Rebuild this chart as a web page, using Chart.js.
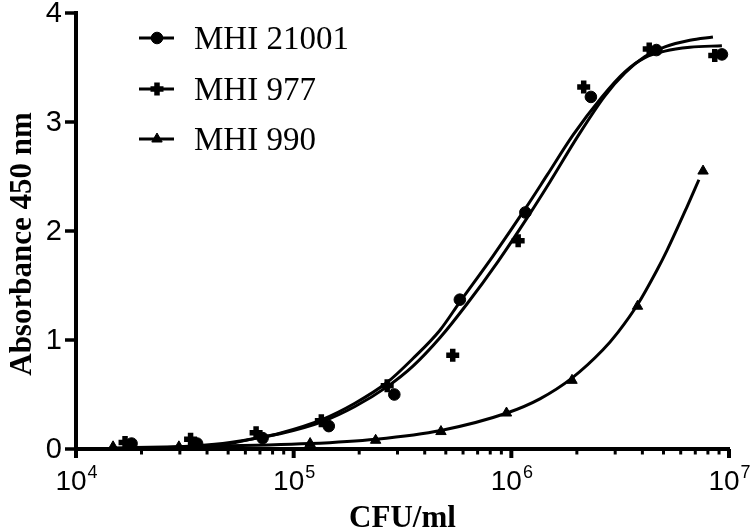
<!DOCTYPE html>
<html><head><meta charset="utf-8">
<script src="https://cdn.jsdelivr.net/npm/chart.js@4/dist/chart.umd.min.js"></script>
<style>html,body{margin:0;padding:0;background:#fff;}#wrap{width:755px;height:530px;}</style>
</head><body><div id="wrap"><canvas id="c" width="755" height="530"></canvas></div>
<script>
// ---- data ----
const seriesNames = ['MHI 21001', 'MHI 977', 'MHI 990'];

const mhi21001X = [1.8e4, 3.6e4, 7.2e4, 1.45e5, 2.9e5, 5.8e5, 1.16e6, 2.32e6, 4.64e6, 9.28e6];
const mhi21001Y = [0.05, 0.05, 0.10, 0.21, 0.50, 1.37, 2.17, 3.23, 3.66, 3.62];
const mhi977X = [1.68e4, 3.36e4, 6.72e4, 1.34e5, 2.69e5, 5.38e5, 1.075e6, 2.15e6, 4.3e6, 8.6e6];
const mhi977Y = [0.06, 0.09, 0.15, 0.26, 0.58, 0.86, 1.91, 3.32, 3.67, 3.61];
const mhi990X = [1.48e4, 2.97e4, 1.19e5, 2.38e5, 4.75e5, 9.5e5, 1.9e6, 3.8e6, 7.6e6];
const mhi990Y = [0.02, 0.02, 0.05, 0.08, 0.16, 0.33, 0.63, 1.31, 2.55];

// fitted curves, values
const fit21001X = [1.808e4, 3.596e4, 5.097e4, 7.228e4, 8.651e4, 1.349e5, 1.912e5, 2.683e5, 3.532e5, 4.699e5, 5.806e5, 8.233e5, 1.155e6, 1.457e6, 1.919e6, 2.608e6, 3.325e6, 4.110e6, 5.077e6, 6.613e6, 9.277e6];
const fit21001Y = [0.00, 0.03, 0.06, 0.11, 0.145, 0.27, 0.42, 0.61, 0.83, 1.09, 1.35, 1.77, 2.20, 2.51, 2.88, 3.23, 3.46, 3.59, 3.65, 3.685, 3.70];
const fit977X = [1.680e4, 3.304e4, 5.097e4, 6.711e4, 8.651e4, 1.349e5, 1.912e5, 2.683e5, 3.532e5, 4.699e5, 6.252e5, 8.681e5, 1.217e6, 1.504e6, 2.022e6, 2.692e6, 3.325e6, 4.110e6, 5.077e6, 6.613e6, 8.436e6];
const fit977Y = [0.00, 0.02, 0.05, 0.10, 0.14, 0.25, 0.39, 0.57, 0.76, 1.02, 1.33, 1.72, 2.16, 2.45, 2.87, 3.24, 3.45, 3.60, 3.69, 3.75, 3.78];
const fit990X = [1.479e4, 2.972e4, 1.188e5, 2.388e5, 4.749e5, 9.546e5, 1.353e6, 1.898e6, 2.636e6, 3.088e6, 3.815e6, 4.665e6, 5.184e6, 6.406e6, 7.272e6];
const fit990Y = [0.01, 0.02, 0.05, 0.09, 0.17, 0.33, 0.46, 0.65, 0.91, 1.07, 1.33, 1.64, 1.82, 2.22, 2.47];

const yTickValues = [0, 1, 2, 3, 4];
const xDecades = [1e4, 1e5, 1e6, 1e7];
const xDecadeExponents = ['4', '5', '6', '7'];
const minorMultipliers = [2, 3, 4, 5, 6, 7, 8, 9];
const xTitle = 'CFU/ml';
const yTitle = 'Absorbance 450 nm';

const zip = (xs, ys) => xs.map((x, i) => ({x, y: ys[i]}));

const pointStyleOpts = [
  {pointStyle: 'circle', radius: 5.8, borderWidth: 1},
  {pointStyle: 'cross', radius: 6.5, borderWidth: 5.5},
  {pointStyle: 'triangle', radius: 6, borderWidth: 1}
];

function curveDs(xs, ys) {
  return {data: zip(xs, ys), showLine: true, borderColor: '#000', borderWidth: 3,
    pointRadius: 0, cubicInterpolationMode: 'monotone', fill: false, order: 2};
}
function pointDs(xs, ys, k) {
  const p = pointStyleOpts[k];
  return {label: seriesNames[k], data: zip(xs, ys), showLine: false,
    pointStyle: p.pointStyle, pointRadius: p.radius, pointBorderWidth: p.borderWidth,
    pointBackgroundColor: '#000', pointBorderColor: '#000', order: 1};
}

const decoPlugin = {
  id: 'deco',
  afterDraw(chart) {
    const ctx = chart.ctx, xs = chart.scales.x, ys = chart.scales.y, ca = chart.chartArea;
    ctx.save();
    ctx.strokeStyle = '#000'; ctx.fillStyle = '#000';
    // y ticks + labels
    ctx.lineWidth = 3.5;
    ctx.font = '29px "Liberation Sans", Arial, sans-serif';
    ctx.textAlign = 'right'; ctx.textBaseline = 'middle';
    yTickValues.forEach(v => {
      const py = ys.getPixelForValue(v);
      ctx.beginPath(); ctx.moveTo(ca.left - 11, py); ctx.lineTo(ca.left, py); ctx.stroke();
      ctx.fillText(String(v), ca.left - 14, py + 1);
    });
    // x ticks
    xDecades.forEach((d, i) => {
      const px = xs.getPixelForValue(d);
      ctx.lineWidth = 4;
      ctx.beginPath(); ctx.moveTo(px, ca.bottom); ctx.lineTo(px, ca.bottom + 9); ctx.stroke();
      if (i < xDecades.length - 1) {
        ctx.lineWidth = 3;
        minorMultipliers.forEach(m => {
          const pm = xs.getPixelForValue(d * m);
          ctx.beginPath(); ctx.moveTo(pm, ca.bottom); ctx.lineTo(pm, ca.bottom + 5.5); ctx.stroke();
        });
      }
      const bigFont = '28px "Liberation Sans", Arial, sans-serif';
      const smallFont = '18px "Liberation Sans", Arial, sans-serif';
      ctx.font = bigFont; const w1 = ctx.measureText('10').width;
      ctx.font = smallFont; const w2 = ctx.measureText(xDecadeExponents[i]).width;
      const start = px - (w1 + w2) / 2;
      ctx.textAlign = 'left'; ctx.textBaseline = 'alphabetic';
      ctx.font = bigFont; ctx.fillText('10', start, 490);
      ctx.font = smallFont; ctx.fillText(xDecadeExponents[i], start + w1 + 1, 478);
    });
    // axis titles
    ctx.font = 'bold 31px "Liberation Serif", "Times New Roman", serif';
    ctx.textAlign = 'center'; ctx.textBaseline = 'alphabetic';
    ctx.fillText(xTitle, (ca.left + ca.right) / 2, 527);
    ctx.save();
    ctx.translate(31, 244);
    ctx.rotate(-Math.PI / 2);
    ctx.fillText(yTitle, 0, 0);
    ctx.restore();
    // legend
    const rowY = [38, 89, 139];
    ctx.font = '33px "Liberation Serif", "Times New Roman", serif';
    ctx.textAlign = 'left'; ctx.textBaseline = 'alphabetic';
    seriesNames.forEach((name, k) => {
      const y = rowY[k];
      ctx.lineWidth = 3;
      ctx.beginPath(); ctx.moveTo(139, y); ctx.lineTo(174, y); ctx.stroke();
      const p = pointStyleOpts[k];
      ctx.lineWidth = p.borderWidth;
      Chart.helpers.drawPoint(ctx, {pointStyle: p.pointStyle, radius: p.radius, borderWidth: p.borderWidth, rotation: 0}, 157, y);
      ctx.fillText(name, 194, y + 11);
    });
    ctx.restore();
  }
};

new Chart(document.getElementById('c'), {
  type: 'scatter',
  data: {
    datasets: [
      curveDs(fit21001X, fit21001Y),
      curveDs(fit977X, fit977Y),
      curveDs(fit990X, fit990Y),
      pointDs(mhi21001X, mhi21001Y, 0),
      pointDs(mhi977X, mhi977Y, 1),
      pointDs(mhi990X, mhi990Y, 2)
    ]
  },
  options: {
    responsive: false,
    animation: false,
    layout: {padding: {top: 13, right: 26, left: 0, bottom: 0}},
    plugins: {legend: {display: false}, tooltip: {enabled: false}},
    scales: {
      x: {type: 'logarithmic', min: 1e4, max: 1e7,
        grid: {display: false}, ticks: {display: false},
        border: {display: true, width: 4, color: '#000'},
        afterFit(s) { s.height = 81; }},
      y: {type: 'linear', min: 0, max: 4,
        grid: {display: false}, ticks: {display: false},
        border: {display: true, width: 4, color: '#000'},
        afterFit(s) { s.width = 76; }}
    }
  },
  plugins: [decoPlugin]
});
</script></body></html>
